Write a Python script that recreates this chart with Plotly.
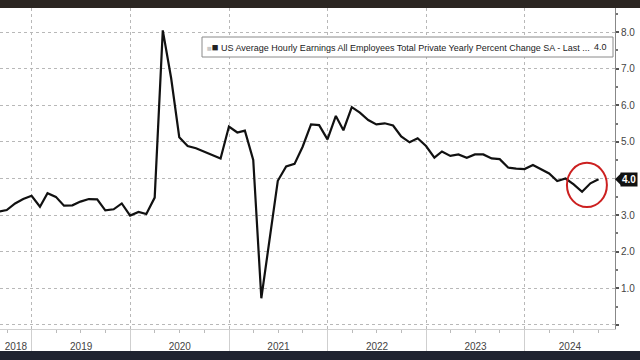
import pandas as pd
import plotly.graph_objects as go

# ---- data (monthly, YoY %) ----
months = pd.date_range("2018-08-31", "2024-09-30", freq="ME")
values = [
    3.10, 3.14, 3.32, 3.44, 3.53,                                            # 2018 Aug-Dec
    3.23, 3.60, 3.50, 3.26, 3.27, 3.37, 3.44, 3.43, 3.13, 3.16, 3.32, 2.99,  # 2019
    3.09, 3.03, 3.48, 8.05, 6.74, 5.13, 4.89, 4.83, 4.74, 4.64, 4.55, 5.42,  # 2020
    5.26, 5.31, 4.51, 0.73, 2.35, 3.94, 4.33, 4.40, 4.87, 5.48, 5.46, 5.07,  # 2021
    5.71, 5.32, 5.95, 5.80, 5.60, 5.48, 5.51, 5.45, 5.15, 4.99, 5.10, 4.89,  # 2022
    4.57, 4.74, 4.62, 4.66, 4.57, 4.66, 4.66, 4.55, 4.53, 4.30, 4.27, 4.26,  # 2023
    4.37, 4.25, 4.14, 3.93, 4.00, 3.84, 3.64, 3.87, 3.98,                    # 2024 Jan-Sep
]
series_name = "US Average Hourly Earnings All Employees Total Private Yearly Percent Change SA - Last ..."
year_labels = ["2018", "2019", "2020", "2021", "2022", "2023", "2024"]
y_ticks = [0, 1, 2, 3, 4, 5, 6, 7, 8]

x_start = pd.Timestamp("2018-09-05")
x_end = pd.Timestamp("2024-11-30")
year_starts = [pd.Timestamp(f"{y}-01-01") for y in year_labels[1:]]
# label positions: middle of the visible part of each year
bounds = [x_start] + year_starts + [x_end]
label_pos = [bounds[i] + (bounds[i + 1] - bounds[i]) / 2 for i in range(len(year_labels))]
quarters = [d for d in pd.date_range("2018-01-01", "2024-12-31", freq="QS") if x_start < d < x_end and d.month != 1]

last = values[-1]
FONT = "Liberation Sans"
GRID = "#b8b8b8"
TEXT = "#444444"

# plot area in pixels: x 0..615, y 8..329
def px(x):
    return x / 615

def py(y):
    return (329 - y) / 321

fig = go.Figure()
fig.add_trace(go.Scatter(x=months, y=values, mode="lines",
                         line=dict(color="#111111", width=2.2), showlegend=False,
                         hoverinfo="skip"))
# dummy trace for secondary x axis (year labels)
fig.add_trace(go.Scatter(x=[months[0]], y=[values[0]], xaxis="x2", mode="markers",
                         marker=dict(opacity=0), showlegend=False, hoverinfo="skip"))

fig.update_layout(
    width=640, height=360,
    margin=dict(l=0, r=25, t=8, b=31, autoexpand=False),
    paper_bgcolor="white", plot_bgcolor="white",
    font=dict(family=FONT, size=10, color=TEXT),
    xaxis=dict(
        range=[x_start, x_end], tickmode="array", tickvals=year_starts, automargin=False,
        showticklabels=False, ticks="outside", ticklen=22, tickcolor="#cfcfcf", tickwidth=1,
        showgrid=True, gridcolor=GRID, griddash="dot", gridwidth=1,
        showline=True, linecolor="#d0d0d0", linewidth=1, zeroline=False,
        minor=dict(tickmode="array", tickvals=quarters, ticks="outside", ticklen=3,
                   tickcolor="#bbbbbb", showgrid=False),
    ),
    xaxis2=dict(
        overlaying="x", side="bottom", range=[x_start, x_end], tickmode="array", automargin=False,
        tickvals=label_pos, ticktext=year_labels, ticks="outside", ticklen=8,
        tickcolor="rgba(0,0,0,0)", showgrid=False, showline=False, zeroline=False,
        tickfont=dict(size=10, color=TEXT),
    ),
    yaxis=dict(
        range=[-0.11, 8.66], side="right", tickmode="array", tickvals=y_ticks, automargin=False,
        ticktext=["" if v == 0 else f"{v:.1f}" for v in y_ticks],
        ticks="outside", ticklen=3, tickcolor="#555555", tickwidth=1.5,
        showgrid=True, gridcolor=GRID, griddash="dot", gridwidth=1,
        showline=True, linecolor="#888888", linewidth=1, zeroline=False,
        tickfont=dict(size=10, color=TEXT),
        minor=dict(dtick=0.5, tick0=0, ticks="outside", ticklen=2, tickcolor="#777777", showgrid=False),
    ),
)

# dark bands at top and bottom (photo frame)
fig.add_shape(type="rect", xref="paper", yref="paper", x0=-0.01, x1=1.05,
              y0=1, y1=1.05, fillcolor="#2b2622", line=dict(width=0), layer="above")
fig.add_shape(type="rect", xref="paper", yref="paper", x0=-0.01, x1=1.05,
              y0=-0.12, y1=py(351), fillcolor="#1f2330", line=dict(width=0), layer="above")

# legend box
fig.add_shape(type="rect", xref="paper", yref="paper", x0=px(202), x1=px(613),
              y0=py(57), y1=py(37), fillcolor="white",
              line=dict(color="#8a8a8a", width=1), layer="above")
fig.add_annotation(
    xref="paper", yref="paper", x=px(205), y=py(47), xanchor="left", yanchor="middle",
    text=(f"<span style='color:#c8c8c8;font-size:8px'>■</span>"
          f"<span style='font-size:11px'>■</span> {series_name}"),
    showarrow=False, font=dict(family=FONT, size=9, color="#222222"),
)
fig.add_annotation(
    xref="paper", yref="paper", x=px(609), y=py(47), xanchor="right", yanchor="middle",
    text=f"{last:.1f}", showarrow=False, font=dict(family=FONT, size=9, color="#222222"),
)

# last-value tag on the right axis
fig.add_annotation(
    xref="paper", yref="y", x=1, y=last, xanchor="left", yanchor="middle", xshift=5,
    text=f"<b>{last:.1f}</b>", showarrow=False, bgcolor="#111111",
    font=dict(family=FONT, size=10, color="white"), borderpad=1,
)
fig.add_shape(type="path", xref="paper", yref="y", xsizemode="pixel", ysizemode="pixel",
              xanchor=1, yanchor=last, path="M 0 0 L 6 -6 L 6 6 Z",
              fillcolor="#111111", line=dict(width=0))

# red highlight circle around the latest readings
fig.add_shape(type="circle", xref="x", yref="y",
              x0=pd.Timestamp("2024-06-05"), x1=pd.Timestamp("2024-10-31"),
              y0=3.22, y1=4.43, line=dict(color="#cc2020", width=2))

fig.write_html("out.html", config={"displayModeBar": False},
               post_script="document.body.style.margin='0';")
